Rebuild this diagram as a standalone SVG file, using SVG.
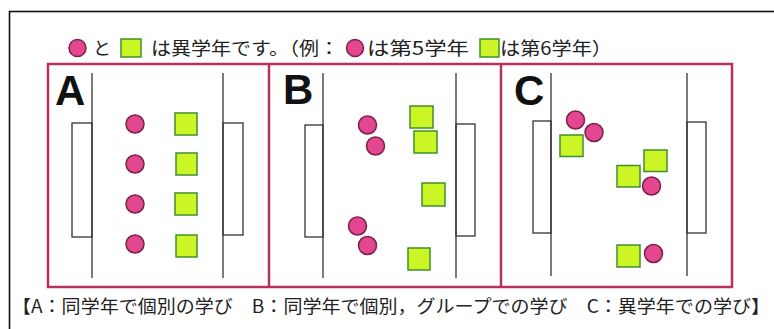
<svg xmlns="http://www.w3.org/2000/svg" width="774" height="329" viewBox="0 0 774 329">
<style>
.jp{font-family:"Noto Sans CJK JP","Noto Sans CJK SC",sans-serif;font-size:18px;fill:#222}
.lbl{font-family:"Liberation Sans",Arial,sans-serif;font-weight:bold;font-size:42px;fill:#111}
.c{fill:#e2478f;stroke:#7e1f48;stroke-width:1.5}
.s{fill:#ccf526;stroke:#3f8f2c;stroke-width:1.5}
.fr{fill:none;stroke:#b5325f;stroke-width:2.5}
.ln{stroke:#333;stroke-width:1.3;fill:none}
.g{fill:#fff;stroke:#333;stroke-width:1.3}
</style>
<rect x="0" y="0" width="774" height="329" fill="#fff"/>
<rect x="9.5" y="11.5" width="790" height="340" fill="none" stroke="#111" stroke-width="1.6"/>
<g id="legend">
<circle class="c" cx="77.5" cy="48" r="8.5"/>
<text class="jp" x="93" y="55">と</text>
<rect class="s" x="121" y="39" width="20" height="18"/>
<text class="jp" x="151" y="55" textLength="188" lengthAdjust="spacingAndGlyphs">は異学年です。（例：</text>
<circle class="c" cx="355" cy="48" r="8.5"/>
<text class="jp" x="367" y="55" textLength="102" lengthAdjust="spacingAndGlyphs">は第5学年</text>
<rect class="s" x="480" y="39" width="19" height="18"/>
<text class="jp" x="500" y="55" textLength="112" lengthAdjust="spacingAndGlyphs">は第6学年）</text>
</g>
<g id="frame">
<rect class="fr" x="48" y="64" width="684" height="223"/>
<line class="fr" x1="269" y1="64" x2="269" y2="287"/>
<line class="fr" x1="501" y1="64" x2="501" y2="287"/>
</g>
<g id="panelA">
<text class="lbl" x="55" y="105">A</text>
<rect class="g" x="72" y="123" width="20" height="114"/>
<rect class="g" x="223" y="123" width="20" height="112"/>
<line class="ln" x1="92" y1="73" x2="92" y2="278"/>
<line class="ln" x1="223" y1="73" x2="223" y2="278"/>
<circle class="c" cx="135" cy="124" r="9"/>
<circle class="c" cx="135" cy="164" r="9"/>
<circle class="c" cx="135" cy="204" r="9"/>
<circle class="c" cx="135" cy="244" r="9"/>
<rect class="s" x="175" y="113" width="22" height="22"/>
<rect class="s" x="176" y="153" width="21" height="22"/>
<rect class="s" x="175" y="193" width="22" height="22"/>
<rect class="s" x="176" y="235" width="21" height="22"/>
</g>
<g id="panelB">
<text class="lbl" x="283" y="104">B</text>
<rect class="g" x="305" y="125" width="18" height="112"/>
<rect class="g" x="456" y="124" width="19" height="112"/>
<line class="ln" x1="323" y1="73" x2="323" y2="278"/>
<line class="ln" x1="456" y1="73" x2="456" y2="278"/>
<circle class="c" cx="367.5" cy="125" r="9"/>
<circle class="c" cx="375.5" cy="146" r="9"/>
<circle class="c" cx="357.5" cy="226" r="9"/>
<circle class="c" cx="367.5" cy="245.5" r="9"/>
<rect class="s" x="410" y="106" width="23" height="22"/>
<rect class="s" x="414" y="131" width="23" height="22"/>
<rect class="s" x="422" y="183" width="23" height="23"/>
<rect class="s" x="408" y="248" width="22" height="22"/>
</g>
<g id="panelC">
<text class="lbl" x="514" y="105">C</text>
<rect class="g" x="533" y="121" width="18" height="112"/>
<rect class="g" x="687" y="122" width="19" height="111"/>
<line class="ln" x1="551" y1="73" x2="551" y2="276"/>
<line class="ln" x1="687" y1="73" x2="687" y2="276"/>
<circle class="c" cx="575.5" cy="120" r="9"/>
<circle class="c" cx="594" cy="132.5" r="9"/>
<rect class="s" x="560" y="135" width="23" height="21.5"/>
<rect class="s" x="644" y="150" width="23" height="21.5"/>
<rect class="s" x="617" y="165.5" width="23" height="21.5"/>
<circle class="c" cx="651.5" cy="186" r="9"/>
<rect class="s" x="617" y="245" width="23" height="22"/>
<circle class="c" cx="653.5" cy="253.5" r="9"/>
</g>
<text id="caption" class="jp" x="12" y="313" textLength="758" lengthAdjust="spacingAndGlyphs">【A：同学年で個別の学び　B：同学年で個別，グループでの学び　C：異学年での学び】</text>
</svg>
